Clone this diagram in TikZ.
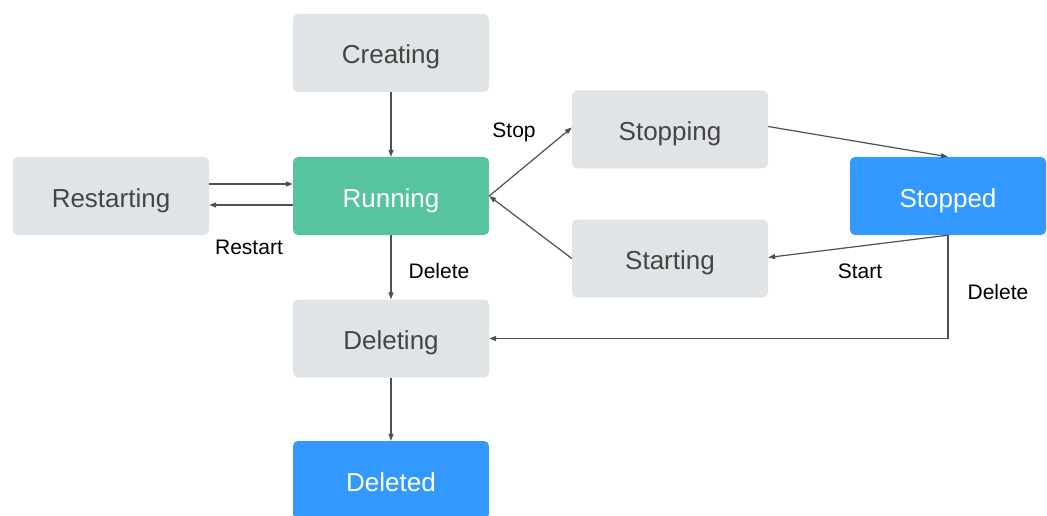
\documentclass[tikz,border=0pt]{standalone}
\usepackage{fontspec}
\setmainfont{Liberation Sans}
\usetikzlibrary{arrows.meta}
\definecolor{boxgray}{HTML}{E1E4E6}
\definecolor{rungreen}{HTML}{58C39F}
\definecolor{stopblue}{HTML}{3399FF}
\definecolor{txtgray}{HTML}{454545}
\definecolor{linegray}{HTML}{505050}
\tikzset{
  state/.style={rectangle, rounded corners=5pt, minimum width=196pt, minimum height=78pt, inner sep=0pt, text height=22pt, text depth=0pt, font=\fontsize{26}{30}\selectfont},
  grey/.style={state, fill=boxgray, text=txtgray},
  green/.style={state, fill=rungreen, text=white},
  blue/.style={state, fill=stopblue, text=white},
  conn/.style={draw=linegray, line width=1.2pt, -{Triangle[length=7pt,width=5pt]}},
  lbl/.style={font=\fontsize{21}{25}\selectfont, text=black, inner sep=0pt}
}
\begin{document}
\begin{tikzpicture}[x=1pt,y=-1pt]
\useasboundingbox (0,0) rectangle (1047,516);
\node[grey]  (creating)   at (391,53)  {Creating};
\node[grey]  (restarting) at (111,196) {Restarting};
\node[green] (running)    at (391,196) {Running};
\node[grey]  (stopping)   at (670,129.5) {Stopping};
\node[grey]  (starting)   at (670,258.5) {Starting};
\node[blue]  (stopped)    at (948,196) {Stopped};
\node[grey]  (deleting)   at (391,338.5) {Deleting};
\node[blue]  (deleted)    at (391,480) {Deleted};

\draw[conn] (creating.south) -- (running.north);
\draw[conn] ([yshift=12pt]restarting.east) -- ([yshift=12pt]running.west);
\draw[conn] ([yshift=-9pt]running.west) -- ([yshift=-9pt]restarting.east);
\draw[conn] (running.south) -- (deleting.north);
\draw[conn] (running.east) -- ([yshift=2pt]stopping.west);
\draw[conn] (starting.west) -- (running.east);
\draw[conn] ([yshift=3pt]stopping.east) -- (stopped.north);
\draw[conn] (stopped.south) -- ([yshift=1pt]starting.east);
\coordinate (corner) at (stopped.south |- deleting.east);
\draw[conn] (stopped.south) -- (corner) -- (deleting.east);
\draw[conn] (deleting.south) -- (deleted.north);

\node[lbl] (lrestart) at (249,247) {Restart};
\node[lbl] (ldelete1) at (439,271) {Delete};
\node[lbl] (lstop)    at (514,132) {Stop};
\node[lbl] (lstart)   at (860,271) {Start};
\node[lbl] (ldelete2) at (998,292) {Delete};
\end{tikzpicture}
\end{document}
